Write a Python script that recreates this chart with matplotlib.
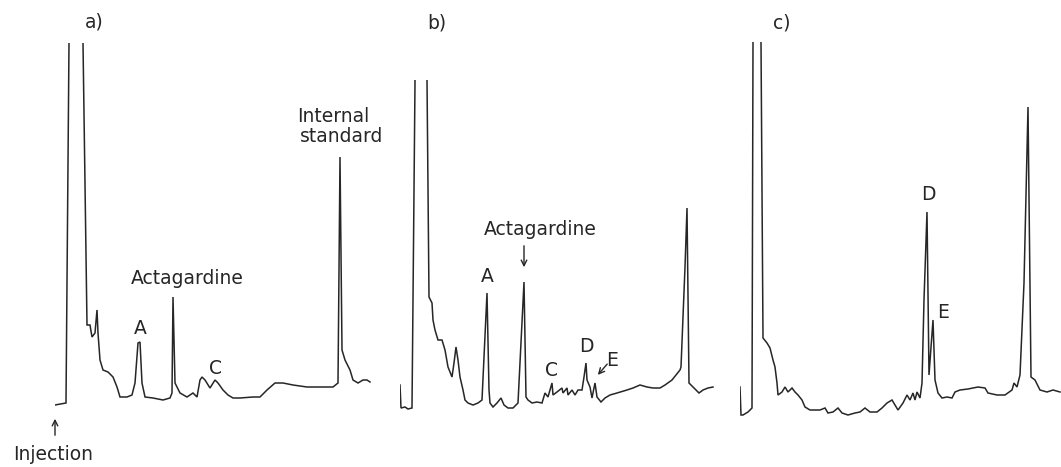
import matplotlib
matplotlib.use("Agg")
import matplotlib.pyplot as plt

# ---- data: retention time (min) and detector response (arbitrary units) ----
# values above the panel's scale represent off-scale (clipped) solvent front
a_time = [0, 1.1, 1.4, 1.5, 2.7, 2.8, 3.2, 3.5, 3.7, 4.0, 4.2, 4.3, 4.5, 4.8, 5.3, 5.8,
          6.2, 6.5, 7.2, 7.7, 8.0, 8.3, 8.5, 8.7, 9.0, 9.8, 10.8, 11.5, 11.7, 11.8, 12.0,
          12.5, 13.2, 13.8, 14.2, 14.5, 14.7, 15.0, 15.5, 16.0, 16.3, 16.8, 17.3, 17.8,
          18.5, 19.8, 20.5, 21.2, 22.0, 22.8, 23.8, 25.2, 26.5, 27.8, 28.3, 28.5, 28.7,
          29.0, 29.5, 29.8, 30.3, 30.8, 31.2, 31.5]
a_signal = [1.5, 1.7, 37.7, 60, 60, 37.7, 9.5, 9.5, 8.3, 8.7, 11.0, 8.7, 6.0, 5.0, 4.8, 4.3,
            3.3, 2.3, 2.3, 2.5, 3.7, 7.7, 7.8, 3.7, 2.3, 2.2, 2.0, 2.2, 2.7, 12.3, 3.7,
            2.7, 2.3, 2.7, 2.3, 4.0, 4.3, 4.0, 3.2, 4.0, 3.7, 3.0, 2.5, 2.2,
            2.2, 2.3, 2.3, 3.0, 3.7, 3.7, 3.5, 3.3, 3.3, 3.3, 3.7, 26.3, 7.0,
            6.0, 5.0, 4.0, 3.7, 4.0, 4.0, 3.8]

b_time = [0, 0.1, 0.5, 0.8, 1.2, 1.5, 1.6, 2.6, 2.7, 2.9, 3.2, 3.3, 3.5, 3.8, 4.2, 4.5,
          4.8, 5.2, 5.4, 5.6, 5.8, 6.0, 6.3, 6.5, 6.8, 7.3, 7.8, 8.2, 8.7, 8.9, 9.0, 9.3,
          9.7, 10.1, 10.4, 10.8, 11.3, 11.8, 12.4, 12.6, 12.8, 13.2, 13.7, 14.2, 14.5,
          14.8, 15.2, 15.3, 15.7, 16.2, 16.3, 16.7, 16.8, 17.2, 17.5, 17.8, 18.2, 18.4,
          18.6, 18.7, 19.0, 19.2, 19.5, 19.7, 20.1, 20.5, 21.0, 21.7, 22.7, 23.3, 24.0,
          24.7, 25.3, 26.0, 26.5, 27.2, 28.0, 28.1, 28.5, 28.7, 28.9, 29.3, 29.9, 30.3,
          30.8, 31.3]
b_signal = [3.5, 1.2, 1.3, 1.1, 1.2, 33.8, 60, 60, 34.0, 12.3, 11.7, 10.0, 9.0, 8.0, 8.0, 7.0,
            5.3, 4.3, 5.7, 7.3, 6.0, 4.3, 3.0, 2.0, 1.7, 1.5, 1.7, 2.0, 12.7, 3.0, 1.7, 1.3,
            1.7, 2.2, 1.5, 1.2, 1.2, 1.7, 13.8, 2.3, 2.0, 1.7, 1.8, 1.7, 2.7,
            2.3, 3.7, 2.5, 2.8, 3.2, 2.7, 3.2, 2.5, 3.0, 2.5, 3.0, 3.0, 4.3,
            5.7, 4.0, 3.3, 2.2, 3.7, 2.3, 1.8, 2.2, 2.5, 2.7, 3.0, 3.2, 3.5,
            3.3, 3.2, 3.2, 3.5, 4.0, 5.0, 5.3, 15.3, 21.2, 3.7, 3.3, 2.7, 3.0,
            3.2, 3.3]

c_time = [0, 0.1, 0.3, 0.8, 1.2, 1.3, 1.4, 2.0, 2.1, 2.3, 2.7, 3.0, 3.3, 3.5, 3.7, 3.8,
          4.2, 4.5, 4.8, 5.2, 5.5, 5.8, 6.2, 6.5, 7.0, 8.0, 8.5, 8.8, 9.3, 9.8, 10.2,
          10.8, 11.5, 12.0, 12.5, 13.0, 13.7, 14.2, 14.7, 15.2, 15.5, 15.8, 16.3, 16.7,
          17.0, 17.3, 17.5, 17.7, 18.0, 18.2, 18.4, 18.7, 18.9, 19.3, 19.5, 19.8, 20.2,
          20.7, 21.2, 21.5, 22.0, 22.8, 23.8, 24.5, 24.8, 25.7, 26.5, 27.2, 27.4, 27.7,
          28.0, 28.4, 28.8, 29.1, 29.5, 30.0, 30.7, 31.3, 32.0]
c_signal = [3.3, 0.5, 0.5, 0.8, 1.2, 37.8, 60, 60, 37.8, 8.2, 7.7, 7.2, 6.0, 5.3, 3.7, 2.5,
            2.8, 3.3, 2.8, 3.2, 2.8, 2.5, 2.0, 1.3, 1.0, 1.0, 1.2, 0.7, 0.8, 1.2, 0.7,
            0.5, 0.7, 0.8, 1.2, 0.8, 0.8, 1.2, 1.7, 2.0, 1.5, 1.0, 1.7, 2.5,
            2.0, 2.7, 2.0, 2.8, 2.2, 3.7, 12.0, 20.8, 4.5, 10.0, 4.0, 2.7, 2.2,
            2.3, 2.2, 2.8, 3.0, 3.1, 3.3, 3.2, 2.7, 2.5, 2.5, 3.0, 3.7, 3.3,
            4.5, 13.7, 31.3, 4.3, 4.0, 3.0, 2.8, 3.0, 2.8]

panel_labels = ["a)", "b)", "c)"]

# ---- figure ----
W, H = 1061, 467
fig = plt.figure(figsize=(W / 100, H / 100), dpi=100)
fig.patch.set_facecolor("white")
ink = "#262626"
fs = 13.5

panels = [
    (55, 32.0, 37.7, a_time, a_signal),
    (400, 32.0, 34.0, b_time, b_signal),
    (740, 32.1, 37.8, c_time, c_signal),
]
baseline_px = 420
axes = []
for left, xmax, ymax, t, s in panels:
    ax = fig.add_axes([left / W, 1 - baseline_px / H, xmax * 10 / W, ymax * 10 / H])
    ax.plot(t, s, color=ink, lw=1.1, solid_joinstyle="miter")
    ax.set_xlim(0, xmax)
    ax.set_ylim(0, ymax)
    ax.axis("off")
    axes.append(ax)

ax_a, ax_b, ax_c = axes
tk = dict(color=ink, fontsize=fs, ha="center", va="center", clip_on=False)

# panel a
ax_a.text(3.9, 39.8, panel_labels[0], **tk)
ax_a.text(27.8, 30.3, "Internal", **tk)
ax_a.text(28.7, 28.3, "standard", **tk)
ax_a.text(13.2, 14.2, "Actagardine", **tk)
ax_a.text(8.5, 9.2, "A", **tk)
ax_a.text(16.1, 5.2, "C", **tk)
ax_a.annotate("", xy=(0, 0.4), xytext=(0, -1.8),
              arrowprops=dict(arrowstyle="->", color=ink, lw=1.0), annotation_clip=False)
ax_a.text(-0.2, -3.5, "Injection", **tk)

# panel b
ax_b.text(3.7, 39.7, panel_labels[1], **tk)
ax_b.text(14.0, 19.1, "Actagardine", **tk)
ax_b.annotate("", xy=(12.4, 15.0), xytext=(12.4, 17.7),
              arrowprops=dict(arrowstyle="->", color=ink, lw=1.0))
ax_b.text(8.7, 14.4, "A", **tk)
ax_b.text(15.2, 5.0, "C", **tk)
ax_b.text(18.6, 7.3, "D", **tk)
ax_b.text(21.2, 6.0, "E", **tk)
ax_b.annotate("", xy=(19.6, 4.3), xytext=(20.9, 5.8),
              arrowprops=dict(arrowstyle="->", color=ink, lw=1.0))

# panel c
ax_c.text(4.2, 39.7, panel_labels[2], **tk)
ax_c.text(18.8, 22.6, "D", **tk)
ax_c.text(20.3, 10.7, "E", **tk)

fig.savefig("out.png", dpi=100, facecolor="white")
